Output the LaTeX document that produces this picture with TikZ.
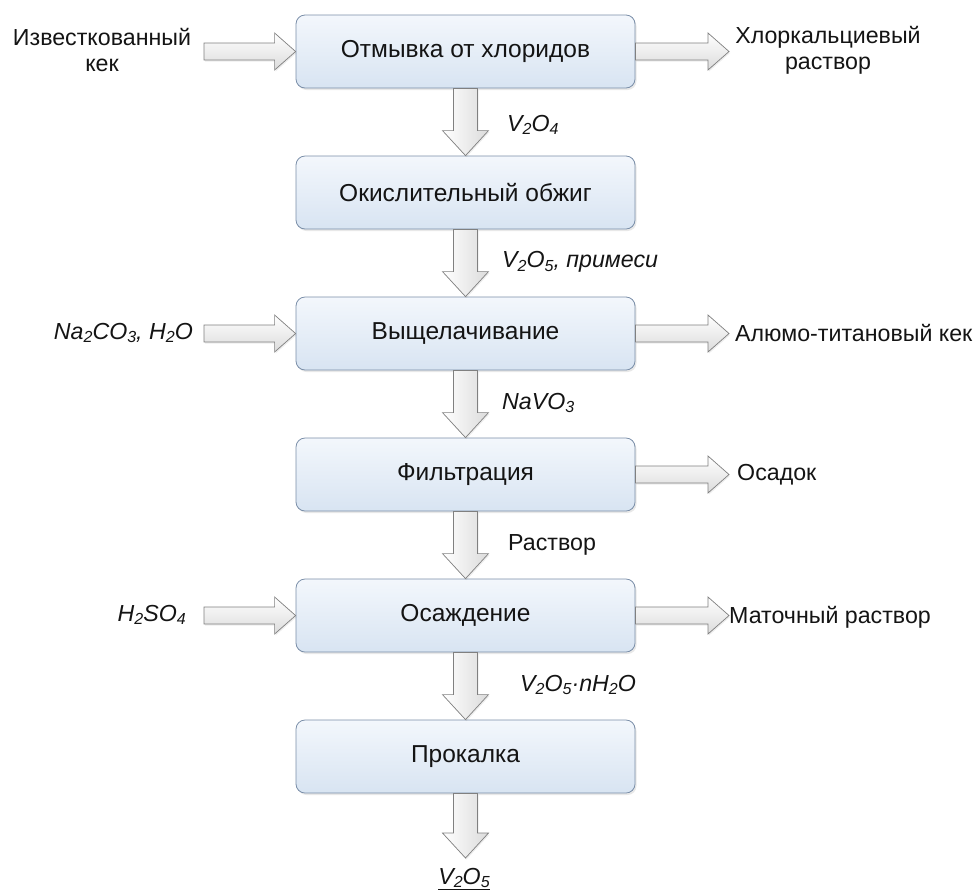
\documentclass[tikz,border=0pt]{standalone}
\usepackage{fontspec}
\setmainfont{Liberation Sans}
\usetikzlibrary{calc,shadows}
\definecolor{boxline}{RGB}{122,142,168}
\definecolor{boxtop}{RGB}{243,247,252}
\definecolor{boxbot}{RGB}{216,228,242}
\definecolor{arrline}{RGB}{128,128,128}
\definecolor{txt}{RGB}{20,20,20}
\newcommand\lo[1]{\raisebox{-0.3ex}{\fontsize{16}{16}\selectfont #1}}
\tikzset{
  procbox/.style={draw=boxline, line width=0.8pt, rounded corners=9pt,
    top color=boxtop, bottom color=boxbot, minimum width=339pt, minimum height=73pt,
    font=\fontsize{24.5}{28}\selectfont, text=txt,
    drop shadow={opacity=0.18, shadow xshift=1.5pt, shadow yshift=-2pt}},
  lbl/.style={font=\fontsize{23.2}{26}\selectfont, text=txt, inner sep=0pt},
  frm/.style={lbl, font=\fontsize{23.2}{26}\selectfont\itshape},
  harr/.style={draw=arrline, line width=0.7pt, top color=white, bottom color=black!14,
    drop shadow={opacity=0.15, shadow xshift=1pt, shadow yshift=-1.5pt}},
  varr/.style={draw=arrline, line width=0.7pt, left color=white, right color=black!14,
    drop shadow={opacity=0.15, shadow xshift=1pt, shadow yshift=-1.5pt}},
}
\newcommand\harrow[2]{%
  \path[harr] let \p1=(#1), \p2=(#2) in
    (\x1,\y1+8.5pt) -- (\x2-21pt,\y1+8.5pt) -- (\x2-21pt,\y1+18.5pt) -- (\x2,\y1)
    -- (\x2-21pt,\y1-18.5pt) -- (\x2-21pt,\y1-8.5pt) -- (\x1,\y1-8.5pt) -- cycle;}
\newcommand\varrow[2]{%
  \path[varr] let \p1=(#1), \p2=(#2) in
    (\x1-12pt,\y1) -- (\x1-12pt,\y2+25pt) -- (\x1-23pt,\y2+25pt) -- (\x1,\y2)
    -- (\x1+23pt,\y2+25pt) -- (\x1+12pt,\y2+25pt) -- (\x1+12pt,\y1) -- cycle;}
\begin{document}
\begin{tikzpicture}[x=1pt,y=-1pt]
\useasboundingbox (0,0) rectangle (979,895);
\node[procbox] (b1) at (465.5,51.5) {Отмывка от хлоридов};
\node[procbox] (b2) at (465.5,192.5) {Окислительный обжиг};
\node[procbox] (b3) at (465.5,333.5) {Выщелачивание};
\node[procbox] (b4) at (465.5,474.5) {Фильтрация};
\node[procbox] (b5) at (465.5,615.5) {Осаждение};
\node[procbox] (b6) at (465.5,756.5) {Прокалка};
% free ends
\coordinate (i1) at (204,51.5);
\coordinate (i3) at (204,333.5);
\coordinate (i5) at (204,615.5);
\coordinate (o1) at (729,51.5);
\coordinate (o3) at (729,333.5);
\coordinate (o4) at (729,474.5);
\coordinate (o5) at (729,615.5);
\coordinate (fin) at (465.5,858);
\harrow{i1}{b1.west}
\harrow{i3}{b3.west}
\harrow{i5}{b5.west}
\harrow{b1.east}{o1}
\harrow{b3.east}{o3}
\harrow{b4.east}{o4}
\harrow{b5.east}{o5}
\varrow{b1.south}{b2.north}
\varrow{b2.south}{b3.north}
\varrow{b3.south}{b4.north}
\varrow{b4.south}{b5.north}
\varrow{b5.south}{b6.north}
\varrow{b6.south}{fin}
% labels
\node[lbl, align=center] (lizv) at (102,50) {Известкованный\\кек};
\node[lbl, align=center] (lhl) at (828,50) {Хлоркальциевый\\раствор};
\node[frm, anchor=west] (l12) at (507,125) {V\lo{2}O\lo{4}};
\node[frm, anchor=west] (l23) at (502,262) {V\lo{2}O\lo{5}, примеси};
\node[frm, anchor=west] (l34) at (502,403) {NaVO\lo{3}};
\node[lbl, anchor=west] (l45) at (508,545) {Раствор};
\node[frm, anchor=west] (l56) at (520,685) {V\lo{2}O\lo{5}·nH\lo{2}O};
\node[frm, anchor=east] (lna) at (193,333) {Na\lo{2}CO\lo{3}, H\lo{2}O};
\node[frm, anchor=east] (lh2) at (186,615) {H\lo{2}SO\lo{4}};
\node[lbl, anchor=west] (lal) at (735,333) {Алюмо-титановый кек};
\node[lbl, anchor=west] (los) at (737,475) {Осадок};
\node[lbl, anchor=west] (lma) at (729,617) {Маточный раствор};
\node[frm] (lfin) at (464,879) {\underline{V\lo{2}O\lo{5}}};
\end{tikzpicture}
\end{document}
